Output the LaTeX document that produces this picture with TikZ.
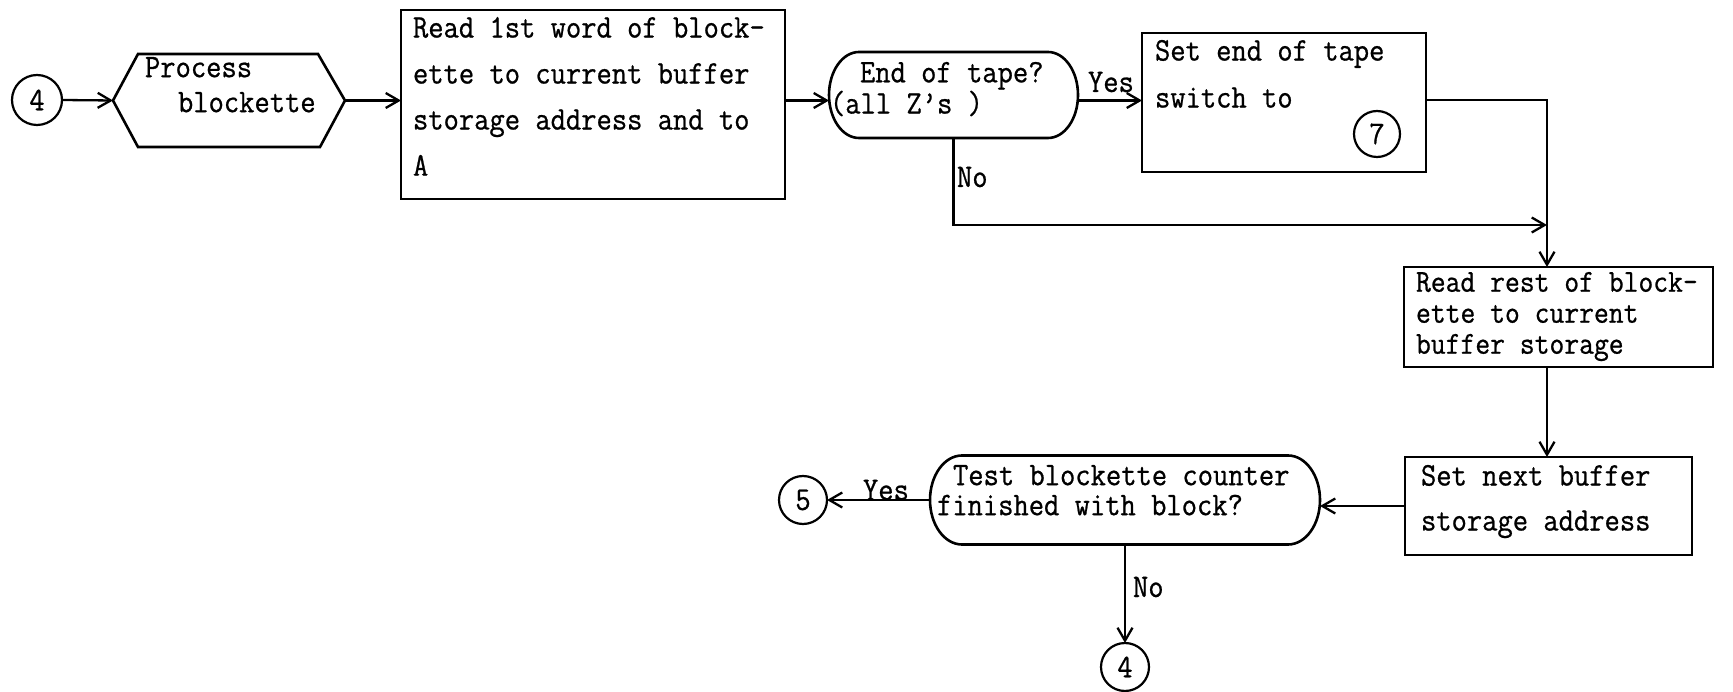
\documentclass[tikz,border=0pt]{standalone}
\usepackage{fontspec}
\setmonofont{Latin Modern Mono}[FakeStretch=0.9, FakeBold=0.7]
\usetikzlibrary{arrows.meta}
\newcommand\termdraw[3]{%
  \draw[ln] ([xshift=#3]#1.north west) -- ([xshift=-#3]#1.north east)
    arc[start angle=90,end angle=-90,x radius=#3,y radius=#2]
    -- ([xshift=#3]#1.south west)
    arc[start angle=270,end angle=90,x radius=#3,y radius=#2] -- cycle;}
\begin{document}
\begin{tikzpicture}[x=1pt,y=-1pt,
  every node/.style={font=\ttfamily\fontsize{33}{46}\selectfont, inner sep=0pt, outer sep=0pt},
  ln/.style={line width=2.6pt},
  arr/.style={line width=2.3pt,-{Straight Barb[length=13pt,width=15pt,line width=2.3pt]}},
  boxn/.style={draw, ln, rectangle},
  shp/.style={rectangle},
  circn/.style={draw, circle, line width=2.2pt, minimum size=#1},
  txt/.style={anchor=north west, align=left},
  lbl/.style={anchor=base west}]
\useasboundingbox (0,0) rectangle (1733,692);

% shapes
\node[circn=50pt] (c4a) at (37,100) {4};
\node[shp, minimum width=232pt, minimum height=93pt] (hex) at (229,100.5) {};
\draw[ln] (hex.west) -- ([xshift=25pt]hex.north west) -- ([xshift=-27pt]hex.north east)
  -- (hex.east) -- ([xshift=-25pt]hex.south east) -- ([xshift=25pt]hex.south west) -- cycle;
\node[boxn, minimum width=384pt, minimum height=189pt] (box1) at (593,104.5) {};
\node[shp, minimum width=249pt, minimum height=86pt] (term1) at (953.5,95) {};
\termdraw{term1}{43pt}{30pt}
\node[boxn, minimum width=284pt, minimum height=139pt] (box2) at (1284,102.5) {};
\node[circn=46pt] (c7) at (1377,134) {7};
\node[boxn, minimum width=309pt, minimum height=100pt] (box3) at (1558.5,317) {};
\node[boxn, minimum width=287pt, minimum height=98pt] (box4) at (1548.5,506) {};
\node[shp, minimum width=390pt, minimum height=89pt] (term2) at (1125,500) {};
\termdraw{term2}{44.5pt}{32pt}
\node[circn=48pt] (c5) at (803,500) {5};
\node[circn=48pt] (c4b) at (1125,667) {4};

% texts
\node[txt, font=\ttfamily\fontsize{33}{35}\selectfont] (hext) at (145,57) {Process\\\hspace*{33pt}blockette};
\node[txt] (box1t) at (413,17) {Read 1st word of block-\\ette to current buffer\\storage address and to\\A};
\node[txt, font=\ttfamily\fontsize{33}{29}\selectfont] (term1t) at (830,62) {\hspace*{30pt}End of tape?\\(all Z’s )};
\node[txt, font=\ttfamily\fontsize{33}{47}\selectfont] (box2t) at (1155,40) {Set end of tape\\switch to};
\node[txt, font=\ttfamily\fontsize{32}{31}\selectfont] (box3t) at (1416,272) {Read rest of block-\\ette to current\\buffer storage};
\node[txt, font=\ttfamily\fontsize{33}{45}\selectfont] (box4t) at (1421,465) {Set next buffer\\storage address};
\node[txt, font=\ttfamily\fontsize{33}{30}\selectfont] (term2t) at (937,465) {\hspace*{16pt}Test blockette counter\\finished with block?};

% labels
\node[lbl] (yes1) at (1088,92) {Yes};
\node[lbl] (no1) at (957,187) {No};
\node[lbl] (yes2) at (863,500) {Yes};
\node[lbl] (no2) at (1133,597) {No};

% connectors
\coordinate (corner) at (1547,100);
\coordinate (j) at (1547,225);
\draw[arr] (c4a.east) -- (hex.west);
\draw[arr] (hex.east) -- (hex.east -| box1.west);
\draw[arr] (box1.east |- hex.east) -- (term1.west |- hex.east);
\draw[arr] (term1.east |- hex.east) -- (box2.west |- hex.east);
\draw[arr] (box2.east |- corner) -- (corner) -- (corner |- box3.north);
\draw[arr] (term1.south) -- (term1.south |- j) -- (j);
\draw[arr] (corner |- box3.south) -- (corner |- box4.north);
\draw[arr] (box4.west) -- (term2.east |- box4.west);
\draw[arr] (term2.west) -- (c5.east);
\draw[arr] (term2.south) -- (c4b.north);
\end{tikzpicture}
\end{document}
